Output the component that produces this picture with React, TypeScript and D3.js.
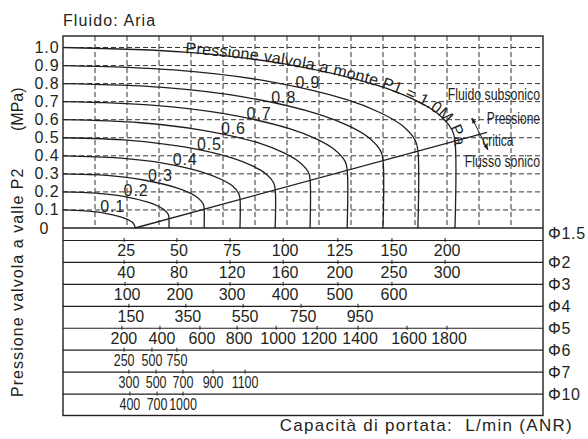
import React from "react";
import * as d3 from "d3";

// Upstream pressure P1 (MPa) of each curve
const inletPressures = [0.1, 0.2, 0.3, 0.4, 0.5, 0.6, 0.7, 0.8, 0.9, 1.0];

// Points: [flow position (grid units), P2 (MPa)]
const curveP01 = [[0, 0.1], [0.7, 0.095], [1.29, 0.083], [1.8, 0.062], [2.01, 0.048], [2.15, 0.034], [2.23, 0.017], [2.25, 0]];
const curveP02 = [[0, 0.2], [1.03, 0.193], [1.89, 0.175], [2.65, 0.143], [2.96, 0.122], [3.16, 0.101], [3.29, 0.075], [3.31, 0.058], [3.31, 0]];
const curveP03 = [[0, 0.3], [1.38, 0.291], [2.52, 0.266], [3.53, 0.224], [3.94, 0.196], [4.21, 0.168], [4.38, 0.134], [4.41, 0.111], [4.41, 0]];
const curveP04 = [[0, 0.4], [1.73, 0.388], [3.16, 0.358], [4.42, 0.306], [4.94, 0.27], [5.28, 0.235], [5.49, 0.192], [5.53, 0.164], [5.53, 0]];
const curveP05 = [[0, 0.5], [2.07, 0.486], [3.79, 0.449], [5.3, 0.387], [5.92, 0.344], [6.33, 0.302], [6.58, 0.251], [6.63, 0.217], [6.63, 0]];
const curveP06 = [[0, 0.6], [2.41, 0.583], [4.42, 0.54], [6.18, 0.468], [6.89, 0.418], [7.36, 0.369], [7.67, 0.309], [7.72, 0.27], [7.72, 0]];
const curveP07 = [[0, 0.7], [2.77, 0.681], [5.08, 0.632], [7.1, 0.549], [7.93, 0.492], [8.47, 0.436], [8.82, 0.368], [8.88, 0.322], [8.88, 0]];
const curveP08 = [[0, 0.8], [3.12, 0.779], [5.72, 0.724], [8.0, 0.63], [8.93, 0.566], [9.54, 0.503], [9.93, 0.426], [10.0, 0.375], [10.0, 0]];
const curveP09 = [[0, 0.9], [3.46, 0.876], [6.34, 0.815], [8.87, 0.711], [9.9, 0.64], [10.58, 0.57], [11.01, 0.485], [11.09, 0.428], [11.09, 0]];
const curveP10 = [[0, 1.0], [3.82, 0.974], [7.01, 0.907], [9.8, 0.792], [10.94, 0.714], [11.69, 0.637], [12.16, 0.543], [12.25, 0.481], [12.25, 0]];
const curves = [curveP01, curveP02, curveP03, curveP04, curveP05, curveP06, curveP07, curveP08, curveP09, curveP10];

// Critical pressure line (subsonic / sonic boundary)
const criticalLine = [[2.25, 0], [13.25, 0.53]];

// Y axis ticks (MPa)
const yTicks = [0, 0.1, 0.2, 0.3, 0.4, 0.5, 0.6, 0.7, 0.8, 0.9, 1.0];
const xGrid = [1, 2, 3, 4, 5, 6, 7, 8, 9, 10, 11, 12, 13, 14];

// Flow table: orifice diameters and flow values L/min (ANR)
const orificeLabels = ["Φ1.5", "Φ2", "Φ3", "Φ4", "Φ5", "Φ6", "Φ7", "Φ10"];
const flowValues = [
  [25, 50, 75, 100, 125, 150, 200],
  [40, 80, 120, 160, 200, 250, 300],
  [100, 200, 300, 400, 500, 600],
  [150, 350, 550, 750, 950],
  [200, 400, 600, 800, 1000, 1200, 1400, 1600, 1800],
  [250, 500, 750],
  [300, 500, 700, 900, 1100],
  [400, 700, 1000],
];
// where each flow value falls on the common flow scale (grid units)
const flowAt = [
  [1.91, 3.56, 5.22, 6.88, 8.59, 10.28, 11.94],
  [1.91, 3.56, 5.22, 6.88, 8.59, 10.28, 11.94],
  [1.94, 3.59, 5.22, 6.88, 8.59, 10.28],
  [2.06, 3.84, 5.63, 7.44, 9.22],
  [1.84, 3.03, 4.28, 5.44, 6.66, 7.94, 9.22, 10.75, 12.0],
  [1.91, 2.78, 3.56],
  [2.06, 2.91, 3.75, 4.69, 5.69],
  [2.09, 2.94, 3.75],
];
const narrowRows = [5, 6, 7];

const W = 588;
const H = 439;
const ink = "#231f20";
const font = "'Liberation Sans', Arial, sans-serif";

const x = d3.scaleLinear().domain([0, 15]).range([63, 543]);
const y = d3.scaleLinear().domain([0, 1]).range([228, 47.5]);
const row = d3.scaleLinear().domain([0, 8]).range([240.5, 416]);
const plotTop = 36;

const line = d3
  .line<number[]>()
  .x((d) => x(d[0]))
  .y((d) => y(d[1]))
  .curve(d3.curveCatmullRom.alpha(0.5));

// P2 on a curve at flow position u
const valueAt = (pts: number[][], u: number) => {
  for (let i = 0; i < pts.length - 1; i++) {
    const a = pts[i];
    const b = pts[i + 1];
    if (u >= a[0] && u <= b[0]) {
      const t = b[0] === a[0] ? 0 : (u - a[0]) / (b[0] - a[0]);
      return a[1] + t * (b[1] - a[1]);
    }
  }
  return pts[pts.length - 1][1];
};

const App: React.FC = () => {
  const left = x.range()[0];
  const right = x.range()[1];
  const bottom = row(8) - 0.5;

  return (
    <svg
      width={W}
      height={H}
      viewBox={`0 0 ${W} ${H}`}
      style={{ position: "absolute", left: 0, top: 0, background: "#fff" }}
      fontFamily={font}
      fill={ink}
    >
      <defs>
        <marker
          id="arrowHead"
          viewBox="0 0 10 10"
          refX="9"
          refY="5"
          markerWidth="7"
          markerHeight="6"
          orient="auto-start-reverse"
        >
          <path d="M0,1.5 L10,5 L0,8.5 z" fill={ink} />
        </marker>
      </defs>

      <text x={63} y={26} fontSize={16} style={{ letterSpacing: "1.1px" }}>
        Fluido: Aria
      </text>

      {/* grid */}
      <g stroke="#333" strokeWidth={1} strokeDasharray="5,3" fill="none">
        {yTicks
          .filter((t) => t > 0)
          .map((t) => (
            <line key={"h" + t} x1={left} x2={right} y1={y(t)} y2={y(t)} />
          ))}
        {xGrid.map((g) => (
          <line key={"v" + g} x1={x(g)} x2={x(g)} y1={plotTop} y2={y(0)} />
        ))}
      </g>

      {/* y tick labels */}
      <g fontSize={16} style={{ letterSpacing: "0.9px" }}>
        {yTicks.map((t) => (
          <text
            key={t}
            x={t === 0 ? 44.5 : 59.5}
            y={y(t) + 5.5}
            textAnchor={t === 0 ? "middle" : "end"}
          >
            {t === 0 ? "0" : t.toFixed(1)}
          </text>
        ))}
      </g>

      {/* pressure curves */}
      <g fill="none" stroke={ink} strokeWidth={1.3}>
        {curves.map((c, i) => (
          <path key={i} id={"inlet-" + i} d={line(c) || ""} />
        ))}
        <path
          d={`M${x(criticalLine[0][0])},${y(criticalLine[0][1])}L${x(criticalLine[1][0])},${y(criticalLine[1][1])}`}
        />
      </g>

      {/* curve labels */}
      <g fontSize={16} style={{ letterSpacing: "0.9px" }}>
        {curves.slice(0, 9).map((c, i) => {
          const u = 0.69 * c[c.length - 1][0];
          return (
            <text key={i} x={x(u)} y={y(valueAt(c, u)) - 3} textAnchor="middle">
              {inletPressures[i].toFixed(1)}
            </text>
          );
        })}
      </g>
      <text fontSize={16} style={{ letterSpacing: "0.3px" }} dy={1}>
        <textPath href="#inlet-9" startOffset={122}>
          Pressione valvola a monte P1 = 1.0M Pa
        </textPath>
      </text>

      {/* annotations on the right */}
      <g fontSize={16}>
        <text transform={`translate(${right - 3},${y(0.71)}) scale(0.77,1)`} textAnchor="end">
          Fluido subsonico
        </text>
        <text transform={`translate(${right - 3},${y(0.574)}) scale(0.75,1)`} textAnchor="end">
          Pressione
        </text>
        <text transform={`translate(${x(13.1)},${y(0.454)}) scale(0.75,1)`}>critica</text>
        <text transform={`translate(${right - 3},${y(0.338)}) scale(0.77,1)`} textAnchor="end">
          Flusso sonico
        </text>
      </g>
      <line
        x1={x(12.78)}
        y1={y(0.609)}
        x2={x(13.28)}
        y2={y(0.432)}
        stroke={ink}
        strokeWidth={1}
        markerStart="url(#arrowHead)"
        markerEnd="url(#arrowHead)"
      />

      {/* flow table */}
      <g stroke={ink} fill="none">
        <line x1={left} x2={right} y1={y(0)} y2={y(0)} strokeWidth={1.3} />
        {orificeLabels.map((_, i) => (
          <line key={i} x1={left} x2={right} y1={row(i)} y2={row(i)} strokeWidth={1.2} />
        ))}
        <rect x={left} y={plotTop} width={right - left} height={bottom - plotTop} strokeWidth={1.4} />
      </g>

      {flowValues.map((vals, i) => {
        const narrow = narrowRows.includes(i);
        return (
          <g key={i}>
            {vals.map((v, j) => {
              const px = x(flowAt[i][j]);
              return (
                <g key={j}>
                  <line x1={px} x2={px} y1={row(i) - 2.5} y2={row(i) + 1.5} stroke={ink} strokeWidth={1} />
                  <text
                    transform={`translate(${px + (narrow ? 0 : 2)},${row(i) + 15.5}) scale(${narrow ? 0.78 : 1},1)`}
                    textAnchor="middle"
                    fontSize={16}
                  >
                    {v}
                  </text>
                </g>
              );
            })}
          </g>
        );
      })}

      <g fontSize={16} style={{ letterSpacing: "0.7px" }}>
        {orificeLabels.map((l, i) => (
          <text key={l} x={548} y={i === 0 ? row(i) - 2 : row(i) + 5.5}>
            {l}
          </text>
        ))}
      </g>

      {/* axis titles */}
      <text
        transform="translate(22.5,397) rotate(-90)"
        fontSize={16}
        style={{ letterSpacing: "1.05px" }}
      >
        Pressione valvola a valle P2
      </text>
      <text transform="translate(22.5,131) rotate(-90)" fontSize={16}>
        (MPa)
      </text>
      <text
        x={573}
        y={431}
        textAnchor="end"
        fontSize={17}
        style={{ letterSpacing: "1.3px", whiteSpace: "pre" }}
      >
        {"Capacità di portata:  L/min (ANR)"}
      </text>
    </svg>
  );
};

export default App;
